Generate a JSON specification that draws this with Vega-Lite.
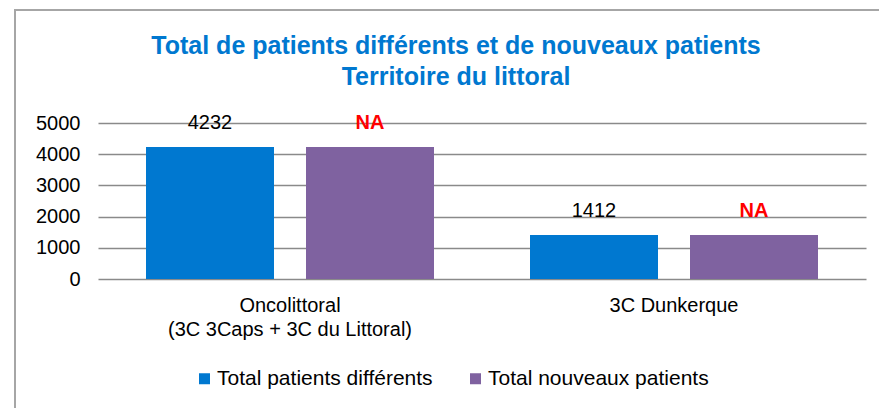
{
  "$schema": "https://vega.github.io/schema/vega-lite/v6.json",
  "width": 870,
  "height": 405,
  "autosize": {"type": "none"},
  "padding": {"left": 15, "top": 10, "right": 0, "bottom": 0},
  "background": "white",
  "config": {
    "font": "Liberation Sans",
    "view": {"stroke": "#a6a6a6", "strokeWidth": 2}
  },
  "title": {
    "text": ["Total de patients différents et de nouveaux patients", "Territoire du littoral"],
    "fontSize": 25,
    "fontWeight": "bold",
    "color": "#0078D0",
    "anchor": "middle",
    "offset": -80,
    "lineHeight": 31,
    "dx": 6
  },
  "data": {
    "values": [
      {"groupe": "Oncolittoral|(3C 3Caps + 3C du Littoral)", "serie": "Total patients différents", "valeur": 4232, "etiquette": "4232"},
      {"groupe": "Oncolittoral|(3C 3Caps + 3C du Littoral)", "serie": "Total nouveaux patients", "valeur": 4232, "etiquette": "NA"},
      {"groupe": "3C Dunkerque", "serie": "Total patients différents", "valeur": 1412, "etiquette": "1412"},
      {"groupe": "3C Dunkerque", "serie": "Total nouveaux patients", "valeur": 1412, "etiquette": "NA"}
    ]
  },
  "encoding": {
    "x": {
      "field": "groupe",
      "type": "nominal",
      "sort": null,
      "scale": {"range": [83, 851], "paddingInner": 0.25, "paddingOuter": 0.125},
      "axis": {
        "title": null,
        "orient": "bottom",
        "offset": -136,
        "domain": false,
        "ticks": false,
        "grid": false,
        "labelAngle": 0,
        "labelFontSize": 20,
        "labelColor": "#000000",
        "labelPadding": 16,
        "labelBaseline": "top",
        "labelLineHeight": 24,
        "labelLimit": 400,
        "labelExpr": "split(datum.label, '|')"
      }
    },
    "xOffset": {
      "field": "serie",
      "type": "nominal",
      "sort": ["Total patients différents", "Total nouveaux patients"],
      "scale": {"paddingInner": 0.2, "paddingOuter": 0}
    },
    "y": {
      "field": "valeur",
      "type": "quantitative",
      "scale": {"domain": [0, 5000], "range": [269, 113], "nice": false, "zero": true},
      "axis": {
        "title": null,
        "values": [0, 1000, 2000, 3000, 4000, 5000],
        "format": "d",
        "offset": -83,
        "domain": false,
        "ticks": false,
        "grid": true,
        "gridColor": "#8a8a8a",
        "gridWidth": 1.6,
        "labelFontSize": 20,
        "labelColor": "#000000",
        "labelPadding": 18
      }
    }
  },
  "layer": [
    {
      "mark": {"type": "bar"},
      "encoding": {
        "color": {
          "field": "serie",
          "type": "nominal",
          "scale": {"domain": ["Total patients différents", "Total nouveaux patients"], "range": ["#0078D0", "#7F62A0"]},
          "legend": {
            "orient": "none",
            "legendX": 179,
            "legendY": 358,
            "direction": "horizontal",
            "title": null,
            "symbolType": "square",
            "symbolSize": 121,
            "symbolStrokeWidth": 0,
            "labelFontSize": 21,
            "labelColor": "#000000",
            "labelOffset": 2,
            "labelLimit": 400,
            "columnPadding": 32,
            "padding": 0
          }
        }
      }
    },
    {
      "transform": [{"filter": "datum.serie === 'Total patients différents'"}],
      "mark": {"type": "text", "dy": -24, "baseline": "middle", "fontSize": 20, "color": "#000000"},
      "encoding": {"text": {"field": "etiquette"}}
    },
    {
      "transform": [{"filter": "datum.serie === 'Total nouveaux patients'"}],
      "mark": {"type": "text", "dy": -24, "baseline": "middle", "fontSize": 20, "fontWeight": "bold", "color": "#FF0000"},
      "encoding": {"text": {"field": "etiquette"}}
    }
  ]
}
